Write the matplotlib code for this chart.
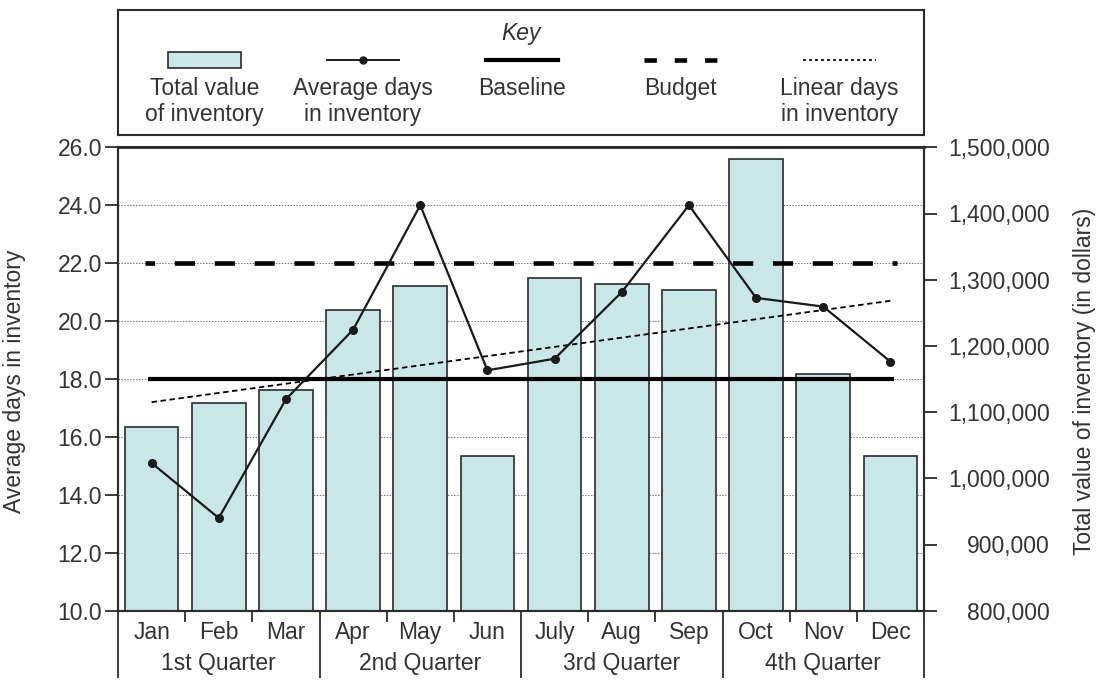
import numpy as np
import matplotlib
matplotlib.use("Agg")
import matplotlib.pyplot as plt
import matplotlib.transforms as mtransforms
from matplotlib.patches import Rectangle
from matplotlib.ticker import FuncFormatter, FixedLocator

plt.rcParams['font.family'] = ['Liberation Sans', 'DejaVu Sans']

months = ["Jan", "Feb", "Mar", "Apr", "May", "Jun",
          "July", "Aug", "Sep", "Oct", "Nov", "Dec"]
quarters = ["1st Quarter", "2nd Quarter", "3rd Quarter", "4th Quarter"]

# total value of inventory, dollars (right axis)
inventory_value = [1078000, 1114000, 1134000, 1254000, 1291000, 1034000,
                   1303000, 1294000, 1285000, 1483000, 1157000, 1034000]
# average days in inventory (left axis)
avg_days = [15.1, 13.2, 17.3, 19.7, 24.0, 18.3,
            18.7, 21.0, 24.0, 20.8, 20.5, 18.6]
baseline_days = 18.0
budget_days = 22.0
trend_days = [17.2, 20.7]   # linear trend at Jan and Dec

legend_labels = [("Total value", "of inventory"),
                 ("Average days", "in inventory"),
                 ("Baseline", ""),
                 ("Budget", ""),
                 ("Linear days", "in inventory")]

BAR_FC = "#c9e7e7"
DARK = "#2b2b2b"
TXT = "#333333"
FS = 16.5

fig = plt.figure(figsize=(11.01, 6.82), dpi=100)
ax_val = fig.add_axes([118 / 1101, 71.3 / 682, 806 / 1101, 463.4 / 682])
ax_days = ax_val.twinx()

x = np.arange(len(months))

# --- dollars axis (behind): bars + gridlines ---
ax_val.set_xlim(-0.5, len(months) - 0.5)
ax_val.set_ylim(800000, 1500000)
ax_days.set_ylim(10, 26)

grid_tr = mtransforms.blended_transform_factory(ax_val.transAxes, ax_days.transData)
for gy in np.arange(12, 26, 2):
    ax_val.plot([0, 1], [gy, gy], transform=grid_tr, color="#777777",
                lw=0.7, ls=(0, (1.5, 1.5)), zorder=1)

ax_val.bar(x, inventory_value, width=0.8, bottom=0,
           color=BAR_FC, edgecolor=DARK, lw=1.2, zorder=2)

# --- days axis (front): lines ---
ax_days.hlines(baseline_days, -0.05, 11.05, color="black", lw=3.0, zorder=3)
ax_days.hlines(budget_days, -0.1, 11.1, color="black", lw=3.3,
               linestyles=[(2.3, (4.4, 4.3))], zorder=3)
ax_days.plot([x[0], x[-1]], trend_days, color="black", lw=1.3,
             ls=(0, (3, 2)), zorder=3)
ax_days.plot(x, avg_days, color="#1a1a1a", lw=1.6, marker="o", ms=5.5, zorder=4)

# y axes: days on left, dollars on right
ax_days.yaxis.tick_left()
ax_days.yaxis.set_major_locator(FixedLocator(np.arange(10, 27, 2)))
ax_days.yaxis.set_major_formatter(FuncFormatter(lambda v, p: f"{v:.1f}"))
ax_days.tick_params(axis="y", direction="out", length=9.5, width=1.3,
                    colors=DARK, labelcolor=TXT, labelsize=FS, pad=2)

ax_val.yaxis.tick_right()
ax_val.yaxis.set_major_locator(FixedLocator(np.arange(800000, 1500001, 100000)))
ax_val.yaxis.set_major_formatter(FuncFormatter(lambda v, p: f"{int(v):,}"))
ax_val.tick_params(axis="y", direction="out", length=9.5, width=1.3,
                   colors=DARK, labelcolor=TXT, labelsize=FS, pad=81)
for lbl in ax_val.get_yticklabels():
    lbl.set_horizontalalignment("right")

# x axis: month ticks and long quarter dividers
ax_val.xaxis.set_major_locator(FixedLocator([-0.5, 2.5, 5.5, 8.5, 11.5]))
ax_val.xaxis.set_minor_locator(FixedLocator([0.5, 1.5, 3.5, 4.5, 6.5, 7.5, 9.5, 10.5]))
ax_val.tick_params(axis="x", which="major", direction="out", length=48,
                   width=1.3, colors=DARK, labelbottom=False)
ax_val.tick_params(axis="x", which="minor", direction="out", length=8,
                   width=1.3, colors=DARK)

lab_tr = mtransforms.blended_transform_factory(ax_val.transData, ax_val.transAxes)
for i, m in enumerate(months):
    ax_val.text(i, -0.046, m, transform=lab_tr, ha="center", va="center",
                fontsize=FS, color=TXT)
for q, name in enumerate(quarters):
    ax_val.text(q * 3 + 1, -0.113, name, transform=lab_tr, ha="center",
                va="center", fontsize=FS, color=TXT)

for a in (ax_val, ax_days):
    for s in a.spines.values():
        s.set_color(DARK)
        s.set_linewidth(1.5)
ax_val.spines["top"].set_linewidth(2)

fig.text(15 / 1101, 1 - 381 / 682, "Average days in inventory", rotation=90,
         ha="center", va="center", fontsize=FS, color=TXT)
fig.text(1085 / 1101, 1 - 381 / 682, "Total value of inventory (in dollars)",
         rotation=90, ha="center", va="center", fontsize=FS, color=TXT)

# --- key box ---
ax_key = fig.add_axes([118 / 1101, 1 - 135 / 682, 806 / 1101, 125 / 682])
ax_key.set_xlim(0, 1)
ax_key.set_ylim(0, 1)
ax_key.set_xticks([])
ax_key.set_yticks([])
for s in ax_key.spines.values():
    s.set_color(DARK)
    s.set_linewidth(1.5)

ax_key.text(0.5, 0.815, "Key", style="italic", ha="center", va="center",
            fontsize=FS, color=TXT)
sym_y = 0.6
half = 0.045
centers = [0.107 + 0.197 * i for i in range(5)]

c = centers[0]
ax_key.add_patch(Rectangle((c - half, sym_y - 0.064), 2 * half, 0.128,
                           facecolor=BAR_FC, edgecolor=DARK, lw=1.2))
c = centers[1]
ax_key.plot([c - half, c + half], [sym_y, sym_y], color="#1a1a1a", lw=1.4)
ax_key.plot([c], [sym_y], "o", color="#1a1a1a", ms=5)
c = centers[2]
ax_key.plot([c - half, c + half], [sym_y, sym_y], color="black", lw=3.0)
c = centers[3]
ax_key.plot([c - half, c + half], [sym_y, sym_y], color="black", lw=3.3,
            ls=(0, (2.7, 3.9)))
c = centers[4]
ax_key.plot([c - half, c + half], [sym_y, sym_y], color="black", lw=1.2,
            ls=(0, (1.8, 1.8)))

for c, (l1, l2) in zip(centers, legend_labels):
    ax_key.text(c, 0.37, l1, ha="center", va="center", fontsize=FS, color=TXT)
    if l2:
        ax_key.text(c, 0.16, l2, ha="center", va="center", fontsize=FS, color=TXT)

fig.savefig("out.png", dpi=100)
